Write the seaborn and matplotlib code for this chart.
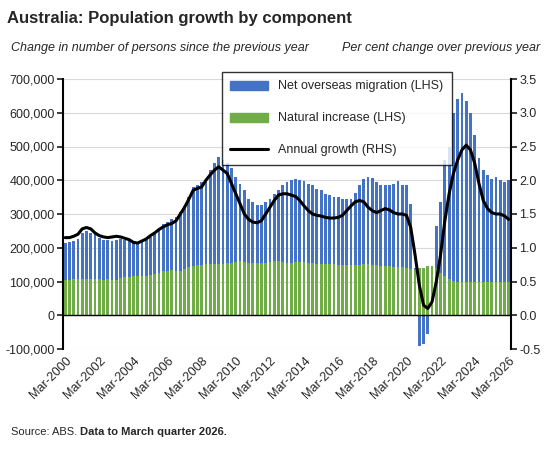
import matplotlib
matplotlib.use("Agg")
import matplotlib.pyplot as plt
import numpy as np
import pandas as pd
import seaborn as sns
from matplotlib.lines import Line2D
from matplotlib.patches import Patch

# quarterly, Mar-2000 .. Mar-2026 (persons, thousands)
total_k = [
    215, 218, 220, 225, 245, 250, 245, 245, 228, 222, 222, 220, 222, 226, 224, 220,
    215, 212, 218, 222, 232, 245, 258, 270, 275, 285, 290, 305, 325, 350, 380, 385,
    395, 405, 430, 450, 470, 460, 450, 435, 410, 390, 370, 345, 335, 328, 328, 335,
    345, 360, 372, 385, 395, 400, 405, 400, 398, 390, 385, 375, 370, 360, 355, 350,
    350, 345, 345, 345, 362, 385, 405, 410, 408, 395, 385, 385, 385, 390, 398, 385,
    387, 330, 140, 50, 50, 90, 145, 265, 335, 460, 500, 600, 640, 660, 635, 600,
    535, 465, 430, 415, 405, 410, 400, 395, 400,
]
natural_k = [
    105, 105, 106, 107, 107, 107, 106, 106, 106, 105, 106, 105, 105, 110, 112, 112,
    115, 115, 116, 116, 118, 122, 126, 130, 132, 133, 132, 130, 138, 142, 146, 150,
    150, 152, 153, 152, 153, 153, 154, 156, 158, 160, 158, 156, 155, 155, 155, 156,
    158, 160, 160, 158, 156, 155, 158, 158, 157, 155, 154, 153, 152, 151, 152, 151,
    150, 149, 148, 148, 149, 150, 152, 152, 150, 148, 146, 145, 145, 144, 144, 143,
    140, 138, 136, 140, 140, 145, 145, 140, 125, 115, 108, 102, 100, 100, 100, 100,
    100, 100, 100, 100, 100, 100, 100, 100, 100,
]
# NOM below zero in these quarters (thousands)
nom_negative = {83: -90, 84: -85, 85: -55}
annual_growth = [
    1.15, 1.15, 1.17, 1.2, 1.28, 1.3, 1.28, 1.22, 1.18, 1.16, 1.15, 1.16, 1.17, 1.16, 1.14, 1.12,
    1.08, 1.07, 1.1, 1.13, 1.18, 1.22, 1.27, 1.31, 1.34, 1.36, 1.4, 1.5, 1.6, 1.72, 1.85, 1.88,
    1.9, 2.0, 2.08, 2.15, 2.2, 2.15, 2.1, 1.95, 1.8, 1.65, 1.5, 1.42, 1.38, 1.37, 1.4, 1.5,
    1.6, 1.7, 1.78, 1.8, 1.8, 1.78, 1.76, 1.7, 1.62, 1.55, 1.5, 1.48, 1.47, 1.45, 1.44, 1.44,
    1.45, 1.48, 1.55, 1.62, 1.68, 1.7, 1.68, 1.6, 1.55, 1.52, 1.55, 1.58, 1.56, 1.52, 1.5, 1.5,
    1.48, 1.3, 0.9, 0.45, 0.15, 0.1, 0.2, 0.5, 0.9, 1.4, 1.8, 2.1, 2.3, 2.45, 2.52, 2.45,
    2.25, 1.95, 1.7, 1.58, 1.52, 1.5, 1.5, 1.47, 1.42,
]
tick_labels = [f"Mar-{y}" for y in range(2000, 2027, 2)]

n = len(total_k)
ni = np.array(natural_k) * 1000.0
nom = np.array(total_k) * 1000.0 - ni
for i, v in nom_negative.items():
    nom[i] = v * 1000.0
blue_top = np.where(nom >= 0, ni + nom, nom)
df = pd.DataFrame({"q": np.arange(n), "blue": blue_top, "green": ni,
                   "growth": annual_growth})

sns.set_theme(style="white")
plt.rcParams["font.family"] = ["Liberation Sans", "DejaVu Sans"]

fig = plt.figure(figsize=(5.48, 4.54), dpi=100)
ax = fig.add_axes([63 / 548, 1 - 349 / 454, 448 / 548, 270 / 454])
sns.barplot(data=df, x="q", y="blue", native_scale=True, color="#4472C4",
            saturation=1, width=0.65, ax=ax, linewidth=0)
sns.barplot(data=df, x="q", y="green", native_scale=True, color="#70AD47",
            saturation=1, width=0.65, ax=ax, linewidth=0)
ax.set_ylim(-100000, 700000)
ax.set_xlim(-0.5, n - 0.5)
ax.set_yticks(range(-100000, 700001, 100000))
ax.set_yticklabels([f"{v:,}" for v in range(-100000, 700001, 100000)], fontsize=9)
ax.yaxis.grid(True, color="#D9D9D9", linewidth=0.8)
ax.set_axisbelow(True)
ax.axhline(0, color="black", linewidth=1)
for s in ["top", "bottom"]:
    ax.spines[s].set_visible(False)
ax.spines["left"].set_color("black")
ax.spines["left"].set_linewidth(1.5)
ax.set_xticks(np.arange(0, n, 8))
ax.set_xticklabels(tick_labels, rotation=45, ha="right", rotation_mode="anchor", fontsize=9)
ax.tick_params(axis="x", length=0, pad=4)
ax.tick_params(axis="y", length=4, left=True, pad=2)
ax.set_xlabel("")
ax.set_ylabel("")

ax2 = ax.twinx()
sns.lineplot(data=df, x="q", y="growth", color="black", linewidth=2.2, ax=ax2)
ax2.set_ylim(-0.5, 3.5)
ax2.set_yticks(np.arange(-0.5, 3.51, 0.5))
ax2.set_yticklabels([f"{v:.1f}" for v in np.arange(-0.5, 3.51, 0.5)], fontsize=9)
ax2.set_ylabel("")
ax2.set_xlabel("")
for s in ["top", "bottom", "left"]:
    ax2.spines[s].set_visible(False)
ax2.spines["right"].set_color("black")
ax2.spines["right"].set_linewidth(1.5)
ax2.tick_params(axis="y", length=4, right=True, pad=2)

handles = [Patch(color="#4472C4"), Patch(color="#70AD47"),
           Line2D([0], [0], color="black", linewidth=2.2)]
labels = ["Net overseas migration (LHS)", "Natural increase (LHS)", "Annual growth (RHS)"]
leg = ax2.legend(handles, labels, loc="upper left", bbox_to_anchor=(0.34, 1.05),
                 fontsize=9, frameon=True, fancybox=False, edgecolor="black",
                 labelspacing=1.6, handlelength=3, borderpad=0.7)
leg.get_frame().set_linewidth(1)

fig.text(0.012, 0.96, "Australia: Population growth by component", fontsize=12,
         fontweight="bold", va="center")
fig.text(0.02, 0.895, "Change in number of persons since the previous year", fontsize=9,
         style="italic", va="center")
fig.text(0.985, 0.895, "Per cent change over previous year", fontsize=9,
         style="italic", va="center", ha="right")
t = fig.text(0.02, 0.048, "Source: ABS. ", fontsize=8, va="center")
fig.canvas.draw()
bb = t.get_window_extent()
fig.text(bb.x1 / fig.bbox.width, 0.048, "Data to March quarter 2026.", fontsize=8,
         fontweight="bold", va="center")

fig.savefig("out.png", dpi=100)
